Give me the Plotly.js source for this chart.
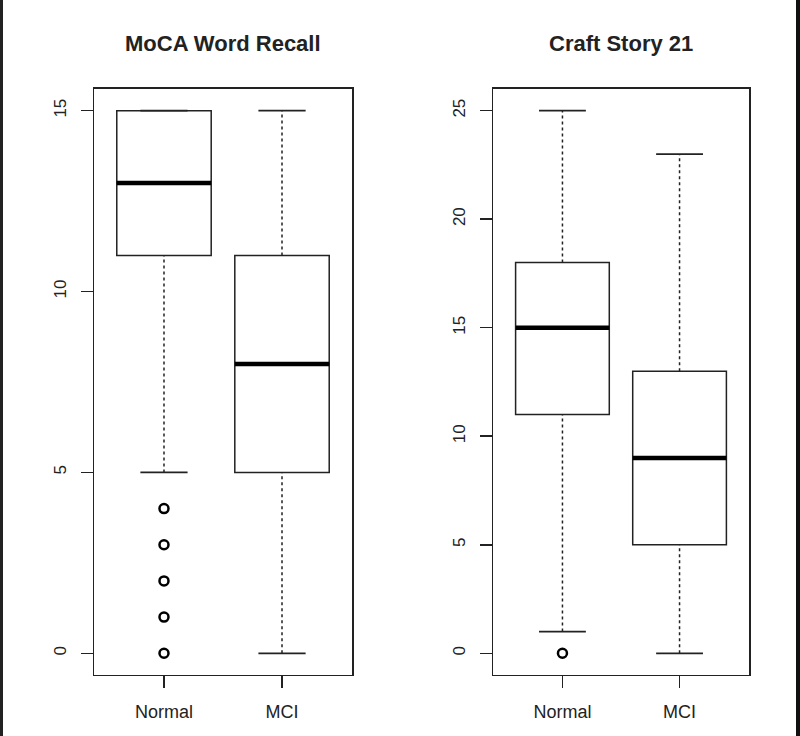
<!DOCTYPE html>
<html>
<head>
<meta charset="utf-8">
<script src="https://cdn.plot.ly/plotly-3.0.1.min.js"></script>
<style>
  html, body { margin: 0; padding: 0; background: #ffffff; }
  #chart { width: 800px; height: 736px; }
</style>
</head>
<body>
<div id="chart"></div>
<script>
// ---- Data ----
const groups = ["Normal", "MCI"];
const panelTitles = ["MoCA Word Recall", "Craft Story 21"];

// MoCA Word Recall
const mocaLowerWhisker = [5, 0];
const mocaQ1 = [11, 5];
const mocaMedian = [13, 8];
const mocaQ3 = [15, 11];
const mocaUpperWhisker = [15, 15];
const mocaOutliersNormal = [0, 1, 2, 3, 4];
const mocaOutliersMCI = [];

// Craft Story 21
const craftLowerWhisker = [1, 0];
const craftQ1 = [11, 5];
const craftMedian = [15, 9];
const craftQ3 = [18, 13];
const craftUpperWhisker = [25, 23];
const craftOutliersNormal = [0];
const craftOutliersMCI = [];

const yTicksMoca = [0, 5, 10, 15];
const yTicksCraft = [0, 5, 10, 15, 20, 25];

// ---- Styling ----
const LINE = "#222222";
const BOXW = 0.8;
const CAPW = 0.4;
const FONT = "Liberation Sans, Arial, Helvetica, sans-serif";

function panelTraces(xa, ya, lw, q1, med, q3, uw, outliers) {
  const traces = [];
  const pos = groups.map((g, i) => i + 1);
  for (let i = 0; i < groups.length; i++) {
    const p = pos[i];
    // box body
    traces.push({
      type: "box", xaxis: xa, yaxis: ya,
      x: [p], q1: [q1[i]], median: [med[i]], q3: [q3[i]],
      lowerfence: [q1[i]], upperfence: [q3[i]],
      width: BOXW, fillcolor: "#ffffff",
      line: { color: LINE, width: 1.5 },
      whiskerwidth: 0, hoverinfo: "skip", showlegend: false
    });
    // whiskers (dashed)
    traces.push({
      type: "scatter", mode: "lines", xaxis: xa, yaxis: ya,
      x: [p, p, null, p, p], y: [lw[i], q1[i], null, q3[i], uw[i]],
      line: { color: LINE, width: 1.5, dash: "3px,3px" },
      hoverinfo: "skip", showlegend: false
    });
    // caps
    traces.push({
      type: "scatter", mode: "lines", xaxis: xa, yaxis: ya,
      x: [p - CAPW / 2, p + CAPW / 2, null, p - CAPW / 2, p + CAPW / 2],
      y: [lw[i], lw[i], null, uw[i], uw[i]],
      line: { color: LINE, width: 1.8 },
      hoverinfo: "skip", showlegend: false
    });
    // thick median
    traces.push({
      type: "scatter", mode: "lines", xaxis: xa, yaxis: ya,
      x: [p - BOXW / 2, p + BOXW / 2], y: [med[i], med[i]],
      line: { color: "#000000", width: 4.5 },
      hoverinfo: "skip", showlegend: false
    });
    // outliers
    const o = outliers[i];
    if (o.length) {
      traces.push({
        type: "scatter", mode: "markers", xaxis: xa, yaxis: ya,
        x: o.map(() => p), y: o,
        marker: { symbol: "circle-open", size: 9, color: "#000000", line: { width: 2.5, color: "#000000" } },
        hoverinfo: "skip", showlegend: false
      });
    }
  }
  return traces;
}

const data = [].concat(
  panelTraces("x", "y", mocaLowerWhisker, mocaQ1, mocaMedian, mocaQ3, mocaUpperWhisker,
    [mocaOutliersNormal, mocaOutliersMCI]),
  panelTraces("x2", "y2", craftLowerWhisker, craftQ1, craftMedian, craftQ3, craftUpperWhisker,
    [craftOutliersNormal, craftOutliersMCI])
);

function xAxis(domain, anchor) {
  return {
    domain: domain, anchor: anchor, range: [0.407, 2.593],
    tickmode: "array", tickvals: [1, 2], ticktext: groups,
    ticks: "outside", ticklen: 12, tickwidth: 1.5, tickcolor: LINE,
    showline: true, mirror: true, linecolor: LINE, linewidth: 1.5,
    showgrid: false, zeroline: false,
    tickfont: { family: FONT, size: 18, color: "#222" },
    ticklabelstandoff: 8, fixedrange: true
  };
}
function yAxis(range, ticks, anchor) {
  return {
    domain: [0.0829, 0.8791], anchor: anchor, range: range,
    tickmode: "array", tickvals: ticks, ticktext: ticks.map(String),
    ticks: "outside", ticklen: 12, tickwidth: 1.5, tickcolor: LINE,
    showline: true, mirror: true, linecolor: LINE, linewidth: 1.5,
    showgrid: false, zeroline: false, tickangle: -90,
    tickfont: { family: FONT, size: 17, color: "#222" },
    ticklabelstandoff: 8, fixedrange: true
  };
}

const layout = {
  width: 800, height: 736,
  margin: { l: 0, r: 0, t: 0, b: 0 },
  paper_bgcolor: "#ffffff", plot_bgcolor: "#ffffff",
  showlegend: false,
  xaxis: xAxis([0.1175, 0.44], "y"),
  yaxis: yAxis([-0.6, 15.6], yTicksMoca, "x"),
  xaxis2: xAxis([0.61625, 0.93625], "y2"),
  yaxis2: yAxis([-1.0, 26.0], yTicksCraft, "x2"),
  annotations: [
    { text: "<b>" + panelTitles[0] + "</b>", xref: "paper", yref: "paper",
      x: 223 / 800, y: 1 - 43 / 736, xanchor: "center", yanchor: "middle", showarrow: false,
      font: { family: FONT, size: 22, color: "#222" } },
    { text: "<b>" + panelTitles[1] + "</b>", xref: "paper", yref: "paper",
      x: 621 / 800, y: 1 - 43 / 736, xanchor: "center", yanchor: "middle", showarrow: false,
      font: { family: FONT, size: 22, color: "#222" } }
  ],
  shapes: [
    { type: "line", xref: "paper", yref: "paper", x0: 1.5 / 800, x1: 1.5 / 800, y0: 0, y1: 1,
      line: { color: "#222", width: 3 } },
    { type: "line", xref: "paper", yref: "paper", x0: 798 / 800, x1: 798 / 800, y0: 0, y1: 1,
      line: { color: "#111", width: 4 } }
  ]
};

Plotly.newPlot("chart", data, layout, { staticPlot: true, displayModeBar: false });
</script>
</body>
</html>
